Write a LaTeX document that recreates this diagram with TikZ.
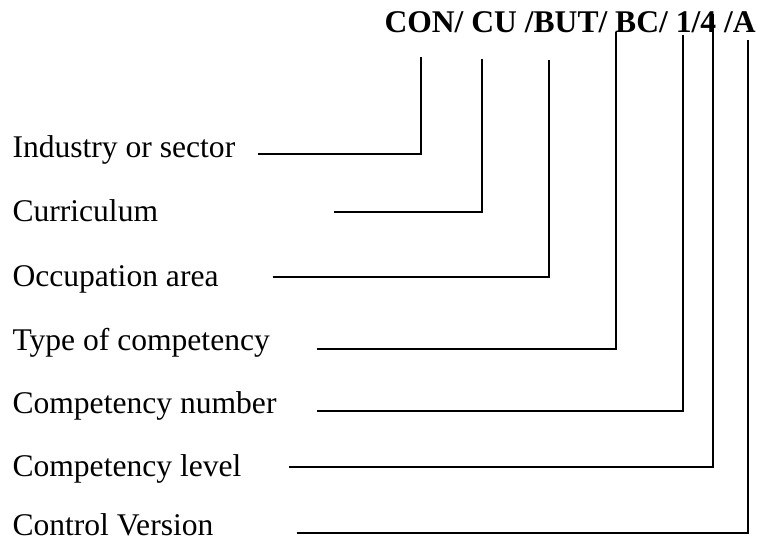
\documentclass[tikz,border=0pt]{standalone}
\usepackage{fontspec}
\setmainfont{Liberation Serif}
\tikzset{code/.style={anchor=base west,inner sep=0pt,font=\fontsize{12}{14}\selectfont\bfseries}}
\tikzset{field/.style={anchor=base west,inner sep=0pt,font=\fontsize{12}{14}\selectfont}}
\tikzset{link/.style={draw=black,line width=0.75pt}}

\begin{document}
\begin{tikzpicture}[x=0.38pt,y=-0.38pt]
    \useasboundingbox (0,0) rectangle (759,544);

    \node[code]  (id)  at (384, 33) {CON/ CU /BUT/ BC/ 1/4 /A};

    \node[field] (ind) at (12, 158) {Industry or sector};
    \node[field] (cur) at (12, 222) {Curriculum};
    \node[field] (occ) at (12, 287) {Occupation area};
    \node[field] (typ) at (12, 351) {Type of competency};
    \node[field] (num) at (12, 413) {Competency number};
    \node[field] (lev) at (12, 477) {Competency level};
    \node[field] (ver) at (12, 536) {Control Version};

    % free ends of the leaders
    \coordinate (ind-l) at (258, 154);  \coordinate (ind-t) at (421, 57);
    \coordinate (cur-l) at (334, 212);  \coordinate (cur-t) at (482, 59);
    \coordinate (occ-l) at (273, 277);  \coordinate (occ-t) at (549, 60);
    \coordinate (typ-l) at (317, 349);  \coordinate (typ-t) at (616, 32);
    \coordinate (num-l) at (317, 411);  \coordinate (num-t) at (683, 35);
    \coordinate (lev-l) at (289, 467);  \coordinate (lev-t) at (713, 14);
    \coordinate (ver-l) at (297, 533);  \coordinate (ver-t) at (748, 40);

    \draw[link] (ind-l) -| (ind-t);
    \draw[link] (cur-l) -| (cur-t);
    \draw[link] (occ-l) -| (occ-t);
    \draw[link] (typ-l) -| (typ-t);
    \draw[link] (num-l) -| (num-t);
    \draw[link] (lev-l) -| (lev-t);
    \draw[link] (ver-l) -| (ver-t);
\end{tikzpicture}
\end{document}
